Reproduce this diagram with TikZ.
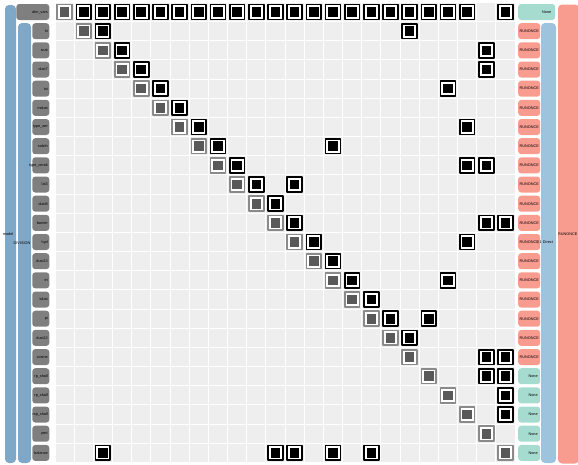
\documentclass[tikz,border=0pt]{standalone}
\usepackage{fontspec}
\setmainfont{Liberation Sans}
\usepackage{tikz}

\definecolor{cellbg}{HTML}{EEEEEE}
\definecolor{lblgray}{HTML}{7F7F7F}
\definecolor{modblue}{HTML}{7FA7C8}
\definecolor{grpblue}{HTML}{9EC3DD}
\definecolor{runred}{HTML}{F99C90}
\definecolor{noneteal}{HTML}{A6DCD0}
\definecolor{diagring}{HTML}{8A8A8A}
\definecolor{diagfill}{HTML}{595959}

\begin{document}
\begin{tikzpicture}[x=1pt, y=-1pt, line join=round,
  tagtxt/.style={font=\fontsize{3.8}{4.5}\selectfont, inner sep=0pt, text=black},
  rowbox/.style={fill=lblgray, rounded corners=3pt, minimum width=17pt, minimum height=16pt, inner sep=0pt, anchor=east},
  runbox/.style={fill=runred, rounded corners=3pt, minimum width=22pt, minimum height=16pt, inner sep=0pt, anchor=west},
  nonebox/.style={fill=noneteal, rounded corners=3pt, minimum width=22pt, minimum height=16pt, inner sep=0pt, anchor=west},
  depout/.style={draw=black, line width=1.7pt, fill=white, minimum size=14.8pt, inner sep=0pt},
  depin/.style={fill=black, minimum size=9.6pt, inner sep=0pt},
  diagout/.style={draw=diagring, line width=1.7pt, fill=white, minimum size=14.8pt, inner sep=0pt},
  diagin/.style={fill=diagfill, minimum size=9.6pt, inner sep=0pt}]

  \useasboundingbox (0,0) rectangle (578,464);

  %% ════ group bars (left) ════
  \node[fill=modblue, rounded corners=4pt, minimum width=11pt, minimum height=458pt, inner sep=0pt] (model) at (10.5,234) {};
  \node[fill=modblue, rounded corners=4pt, minimum width=13pt, minimum height=440pt, inner sep=0pt] (division) at (24.5,243) {};
  \node[tagtxt, anchor=east] (modeltxt) at (13.5,234) {model};
  \node[tagtxt, anchor=east] (divtxt) at (30.5,243) {DIVISION};

  %% ════ group bars (right) ════
  \node[fill=grpblue, rounded corners=4pt, minimum width=15pt, minimum height=440pt, inner sep=0pt] (direct) at (548.5,243) {};
  \node[fill=runred, rounded corners=4pt, minimum width=21pt, minimum height=459pt, inner sep=0pt] (runall) at (568.5,234) {};
  \node[tagtxt, anchor=east] (runalltxt) at (577.5,234) {RUNONCE};

  %% ════ grid ════
  \fill[cellbg] (55,2.4) rectangle (515,462.5);
  \foreach \k in {0,...,24} {
    \draw[white, line width=1pt] (55+19.17*\k,2.4) -- (55+19.17*\k,462.5);
    \draw[white, line width=1pt] (55,2.4+19.17*\k) -- (515,2.4+19.17*\k);
  }

  %% ════ row labels ════
  \node[rowbox, minimum width=33pt] (row0) at (49.5,12) {};
  \node[tagtxt, anchor=east] (rowtxt0) at ([xshift=-1.5pt]row0.east) {dim\_vars};
  \foreach \lbl [count=\r from 1] in {hi, scat, dust7, tsi, indust, type\_aer, solzth, type\_cendt,
      lat3, dust8, barrier, hyd, dust13, tri, tdust, pi, dust12, cosine,
      rp\_shall, rp\_shall, rsp\_shall, pert, balance} {
    \pgfmathsetmacro\cy{12+19.17*\r}
    \node[rowbox] (row\r) at (49.5,\cy) {};
    \node[tagtxt, anchor=east] (rowtxt\r) at ([xshift=-1.5pt]row\r.east) {\lbl};
  }

  %% ════ run mode tags ════
  \node[nonebox, minimum width=37pt] (mode0) at (518,12) {};
  \node[tagtxt, anchor=east] (modetxt0) at ([xshift=-4pt]mode0.east) {None};
  \foreach \r in {1,...,18} {
    \pgfmathsetmacro\cy{12+19.17*\r}
    \node[runbox] (mode\r) at (518,\cy) {};
    \node[tagtxt] (modetxt\r) at (mode\r) {RUNONCE};
  }
  \foreach \r in {19,...,23} {
    \pgfmathsetmacro\cy{12+19.17*\r}
    \node[nonebox] (mode\r) at (518,\cy) {};
    \node[tagtxt, anchor=east] (modetxt\r) at ([xshift=-2.5pt]mode\r.east) {None};
  }
  \node[tagtxt, anchor=west] (directtxt) at (537.5,243) {| 1 Direct};

  %% ════ diagonal ════
  \foreach \r in {0,...,23} {
    \pgfmathsetmacro\cx{64.6+19.17*\r}
    \pgfmathsetmacro\cy{12+19.17*\r}
    \node[diagout] (d\r) at (\cx,\cy) {};
    \node[diagin] at (d\r) {};
  }

  %% ════ dependencies ════
  \foreach \r/\c in {0/1,0/2,0/3,0/4,0/5,0/6,0/7,0/8,0/9,0/10,0/11,0/12,0/13,0/14,0/15,0/16,
      0/17,0/18,0/19,0/20,0/21,0/23,
      1/2,1/18, 2/3,2/22, 3/4,3/22, 4/5,4/20, 5/6, 6/7,6/21, 7/8,7/14,
      8/9,8/21,8/22, 9/10,9/12, 10/11, 11/12,11/22,11/23, 12/13,12/21,
      13/14, 14/15,14/20, 15/16, 16/17,16/19, 17/18, 18/22,18/23,
      19/22,19/23, 20/23, 21/23, 23/2,23/11,23/12,23/14,23/16} {
    \pgfmathsetmacro\cx{64.6+19.17*\c}
    \pgfmathsetmacro\cy{12+19.17*\r}
    \node[depout] (m-\r-\c) at (\cx,\cy) {};
    \node[depin] at (m-\r-\c) {};
  }
\end{tikzpicture}
\end{document}
